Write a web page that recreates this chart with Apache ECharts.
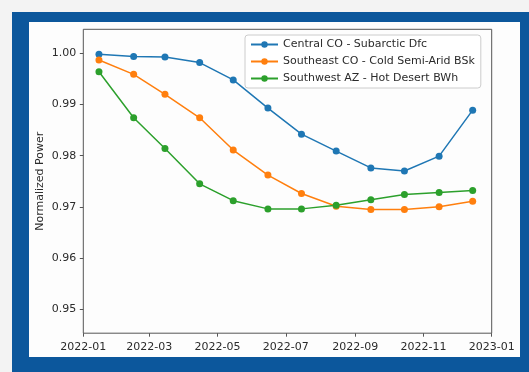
<!DOCTYPE html>
<html>
<head>
<meta charset="utf-8">
<script src="https://cdn.jsdelivr.net/npm/echarts@6/dist/echarts.min.js"></script>
<style>
  html, body { margin: 0; padding: 0; width: 529px; height: 372px; overflow: hidden; background: #f3f3f3; }
  #frame { position: absolute; left: 12px; top: 12px; width: 517px; height: 360px; background: #0c579c; }
  #panel { position: absolute; left: 29px; top: 22px; width: 491px; height: 335px; background: #fdfdfd; }
  #chart { width: 491px; height: 335px; }
</style>
</head>
<body>
<div id="frame"></div>
<div id="panel"><div id="chart"></div></div>
<script>
// Monthly sample dates (mid-month)
const sampleDates = ['2022-01-15', '2022-02-15', '2022-03-15', '2022-04-15', '2022-05-15', '2022-06-15',
                     '2022-07-15', '2022-08-15', '2022-09-15', '2022-10-15', '2022-11-15', '2022-12-15'];

// Normalized power per site
const centralCO   = [0.9998, 0.9994, 0.9993, 0.9982, 0.9948, 0.9893, 0.9842, 0.9809, 0.9776, 0.9770, 0.9799, 0.9889];
const southeastCO = [0.9987, 0.9959, 0.9920, 0.9874, 0.9811, 0.9762, 0.9726, 0.9701, 0.9695, 0.9695, 0.9700, 0.9711];
const southwestAZ = [0.9964, 0.9874, 0.9814, 0.9745, 0.9712, 0.9696, 0.9696, 0.9703, 0.9714, 0.9724, 0.9728, 0.9732];

const seriesNames = ['Central CO - Subarctic Dfc', 'Southeast CO - Cold Semi-Arid BSk', 'Southwest AZ - Hot Desert BWh'];

// Axis ticks
const xTickLabels = ['2022-01', '2022-03', '2022-05', '2022-07', '2022-09', '2022-11', '2023-01'];
const yTickValues = [0.95, 0.96, 0.97, 0.98, 0.99, 1.00];

// Dates are placed on a numeric axis as UTC milliseconds
function toTime(str) {
  const p = str.split('-').map(Number);
  return Date.UTC(p[0], p[1] - 1, p[2] || 1);
}

const xTickTimes = xTickLabels.map(toTime);
const pairs = vals => sampleDates.map((d, i) => [toTime(d), vals[i]]);

const font = 'DejaVu Sans';
const textColor = '#2b2b2b';
const axisColor = '#555555';
const palette = ['#1f77b4', '#ff7f0e', '#2ca02c'];

function lineSeries(name, vals, color) {
  return {
    name: name,
    type: 'line',
    data: pairs(vals),
    symbol: 'circle',
    symbolSize: 7,
    lineStyle: { width: 1.5, color: color },
    itemStyle: { color: color },
    emphasis: { disabled: true },
    animation: false
  };
}

const chart = echarts.init(document.getElementById('chart'), null, { renderer: 'canvas' });
chart.setOption({
  backgroundColor: 'transparent',
  animation: false,
  color: palette,
  textStyle: { fontFamily: font },
  grid: {
    left: 54.3, right: 28.3, top: 7.3, bottom: 23.8,
    containLabel: false,
    outerBoundsMode: 'none',
    show: true, borderColor: axisColor, borderWidth: 1, backgroundColor: 'transparent'
  },
  legend: {
    left: 216, top: 13,
    orient: 'vertical',
    itemWidth: 27, itemHeight: 8, itemGap: 6,
    padding: [4, 6, 4, 5],
    borderColor: '#cccccc', borderWidth: 1, borderRadius: 3,
    backgroundColor: 'rgba(255,255,255,0.8)',
    textStyle: { fontFamily: font, fontSize: 11, color: textColor },
    data: seriesNames
  },
  xAxis: {
    type: 'value',
    min: toTime('2022-01-01'),
    max: toTime('2023-01-01'),
    axisLine: { show: false },
    axisTick: { show: true, length: 3.5, lineStyle: { color: axisColor }, customValues: xTickTimes },
    axisLabel: {
      customValues: xTickTimes,
      fontFamily: font, fontSize: 11, color: textColor, margin: 8,
      formatter: function (v) {
        const i = xTickTimes.indexOf(v);
        return i >= 0 ? xTickLabels[i] : '';
      }
    },
    splitLine: { show: false }
  },
  yAxis: {
    type: 'value',
    min: 0.9453,
    max: 1.0047,
    name: 'Normalized Power',
    nameLocation: 'middle',
    nameGap: 38,
    nameMoveOverlap: false,
    nameTextStyle: { fontFamily: font, fontSize: 11, color: textColor },
    axisLine: { show: false },
    axisTick: { show: true, length: 3.5, lineStyle: { color: axisColor }, customValues: yTickValues },
    axisLabel: {
      customValues: yTickValues,
      fontFamily: font, fontSize: 11, color: textColor, margin: 7,
      formatter: v => v.toFixed(2)
    },
    splitLine: { show: false }
  },
  series: [
    lineSeries(seriesNames[0], centralCO, palette[0]),
    lineSeries(seriesNames[1], southeastCO, palette[1]),
    lineSeries(seriesNames[2], southwestAZ, palette[2])
  ]
});
</script>
</body>
</html>
